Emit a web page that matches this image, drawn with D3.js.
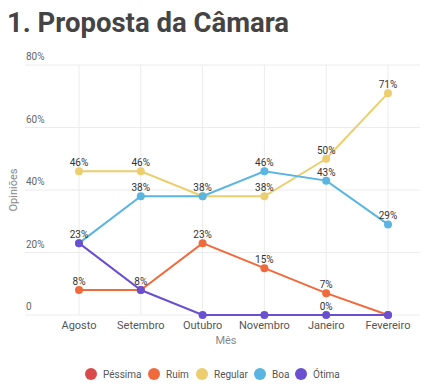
<!DOCTYPE html>
<html>
<head>
<meta charset="utf-8">
<script src="https://cdn.jsdelivr.net/npm/d3@7"></script>
<style>
  body { margin: 0; background: #fff; }
  svg { font-family: Roboto, sans-serif; }
</style>
</head>
<body>
<svg id="viz"></svg>
<script>
// data
const months = ["Agosto", "Setembro", "Outubro", "Novembro", "Janeiro", "Fevereiro"];
const seriesNames = ["Péssima", "Ruim", "Regular", "Boa", "Ótima"];
const pessima = []; // no points drawn for this series
const ruim = [8, 8, 23, 15, 7, 0];
const regular = [46, 46, 38, 38, 50, 71];
const boa = [23, 38, 38, 46, 43, 29];
const otima = [23, 8, 0, 0, 0, 0];
const yTicks = [0, 20, 40, 60, 80];
// labels that the chart hides (overlaps)
const hiddenLabels = ["Ruim:5", "Regular:2", "Ótima:0", "Ótima:1", "Ótima:2", "Ótima:3", "Ótima:5"];

const colors = ["#d94a4a", "#f06a3c", "#ecce6e", "#5ab5e0", "#6a4fd0"];

const series = seriesNames.map((name, i) => ({
    name: name,
    color: colors[i],
    values: [pessima, ruim, regular, boa, otima][i]
}));

const width = 441, height = 391;
const margin = ({ top: 65, right: 21, bottom: 76, left: 25 });

const svg = d3.select("#viz")
    .attr("width", width)
    .attr("height", height)
    .attr("viewBox", [0, 0, width, height]);

svg.append("text")
    .attr("x", 7)
    .attr("y", 32)
    .attr("fill", "#444")
    .attr("font-size", 27.5)
    .attr("font-weight", "bold")
    .text("1. Proposta da Câmara");

const x = d3.scalePoint()
    .domain(months)
    .range([79, 388]);

const y = d3.scaleLinear()
    .domain([0, 80])
    .range([height - margin.bottom, margin.top]);

// grid
svg.append("g")
    .selectAll("line")
    .data(yTicks)
    .join("line")
        .attr("x1", margin.left)
        .attr("x2", width - margin.right)
        .attr("y1", d => y(d))
        .attr("y2", d => y(d))
        .attr("stroke", "#ececec");

svg.append("g")
    .selectAll("line")
    .data(months)
    .join("line")
        .attr("x1", d => x(d))
        .attr("x2", d => x(d))
        .attr("y1", y(80))
        .attr("y2", y(0))
        .attr("stroke", "#ececec");

// y tick labels, above grid lines
svg.append("g")
    .selectAll("text")
    .data(yTicks)
    .join("text")
        .attr("x", margin.left + 1)
        .attr("y", d => y(d) - 5)
        .attr("fill", "#666")
        .attr("font-size", 10)
        .text(d => d === 0 ? "0" : d + "%");

// x tick labels
svg.append("g")
    .selectAll("text")
    .data(months)
    .join("text")
        .attr("x", d => x(d))
        .attr("y", y(0) + 14)
        .attr("text-anchor", "middle")
        .attr("fill", "#555")
        .attr("font-size", 11)
        .text(d => d);

svg.append("text")
    .attr("transform", `translate(17,${y(40)}) rotate(-90)`)
    .attr("text-anchor", "middle")
    .attr("fill", "#888")
    .attr("font-size", 11)
    .text("Opiniões");

svg.append("text")
    .attr("x", 226)
    .attr("y", 344)
    .attr("text-anchor", "middle")
    .attr("fill", "#888")
    .attr("font-size", 11)
    .text("Mês");

const line = d3.line()
    .x((d, i) => x(months[i]))
    .y(d => y(d));

const g = svg.append("g");

series.filter(s => s.values.length).forEach(s => {
    g.append("path")
        .datum(s.values)
        .attr("fill", "none")
        .attr("stroke", s.color)
        .attr("stroke-width", 2)
        .attr("d", line);
    g.selectAll(null)
        .data(s.values)
        .join("circle")
            .attr("cx", (d, i) => x(months[i]))
            .attr("cy", d => y(d))
            .attr("r", 4)
            .attr("fill", s.color);
});

series.forEach(s => {
    g.selectAll(null)
        .data(s.values.map((v, i) => ({ v, i })))
        .join("text")
            .filter(d => !hiddenLabels.includes(s.name + ":" + d.i))
            .attr("x", d => x(months[d.i]))
            .attr("y", d => y(d.v) - 5)
            .attr("text-anchor", "middle")
            .attr("fill", "#333")
            .attr("font-size", 10)
            .text(d => d.v + "%");
});

// legend
const legendX = [91, 154, 202, 260, 301];
const legend = svg.append("g")
    .selectAll("g")
    .data(series)
    .join("g")
        .attr("transform", (d, i) => `translate(${legendX[i]},374)`);

legend.append("circle")
    .attr("r", 6)
    .attr("fill", d => d.color);

legend.append("text")
    .attr("x", 12)
    .attr("y", 4)
    .attr("fill", "#555")
    .attr("font-size", 10)
    .text(d => d.name);
</script>
</body>
</html>
